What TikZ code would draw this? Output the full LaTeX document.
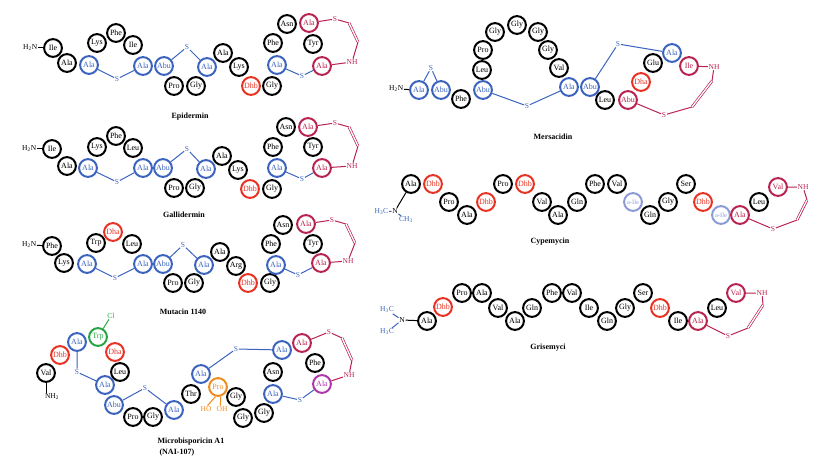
\documentclass[tikz,border=0pt]{standalone}
\usepackage{fontspec}
\setmainfont{Liberation Serif}
\definecolor{lanblue}{RGB}{60,100,190}
\definecolor{lancrim}{RGB}{185,35,80}
\definecolor{dhred}{RGB}{232,50,35}
\definecolor{proorange}{RGB}{240,140,30}
\definecolor{trpgreen}{RGB}{40,165,70}
\definecolor{alamag}{RGB}{175,55,170}
\definecolor{ileblue}{RGB}{140,155,215}
\tikzset{
	res/.style={circle, draw, line width=2pt, minimum size=17.8pt, inner sep=0pt, font=\fontsize{8}{8}\selectfont},
	blueres/.style={res, draw=lanblue, text=lanblue},
	crimres/.style={res, draw=lancrim, text=lancrim},
	redres/.style={res, draw=dhred, text=dhred},
	atom/.style={inner sep=0.6pt, font=\fontsize{7.5}{8}\selectfont},
	bond/.style={line width=1pt},
	dbl/.style={double, double distance=1.3pt, line width=0.7pt},
	title/.style={font=\fontsize{8}{9}\selectfont\bfseries}
}
\begin{document}
\begin{tikzpicture}[x=1pt, y=-1pt]
		\useasboundingbox (0,0) rectangle (826,465);
		\node[atom, anchor=east] (epiN) at (38,48) {H\textsubscript{2}N};
		\node[res] (epi1) at (53,48) {Ile};
		\node[res] (epi2) at (67,63) {Ala};
		\node[blueres] (epi3) at (89,65) {Ala};
		\node[res] (epi4) at (97,43) {Lys};
		\node[res] (epi5) at (116,33) {Phe};
		\node[res] (epi6) at (133,45) {Ile};
		\node[blueres] (epi7) at (143,66) {Ala};
		\node[blueres] (epi8) at (164,66) {Abu};
		\node[res] (epi9) at (174,86) {Pro};
		\node[res] (epi10) at (196,86) {Gly};
		\node[blueres] (epi11) at (207,67) {Ala};
		\node[res] (epi12) at (223,53) {Ala};
		\node[res] (epi13) at (239,67) {Lys};
		\node[redres] (epi14) at (251,86) {Dhb};
		\node[res] (epi15) at (272,86) {Gly};
		\node[blueres] (epi16) at (277,65) {Ala};
		\node[res] (epi17) at (273,43) {Phe};
		\node[res] (epi18) at (287,24) {Asn};
		\node[crimres] (epi19) at (309,23) {Ala};
		\node[res] (epi20) at (313,44) {Tyr};
		\node[crimres] (epi21) at (322,66) {Ala};
		\node[atom, lanblue] (epiS1) at (117,79) {S};
		\node[atom, lanblue] (epiS2) at (187,47) {S};
		\node[atom, lanblue] (epiS3) at (302,76) {S};
		\node[atom, lancrim] (epiS4) at (335,19) {S};
		\node[atom, lancrim] (epiNH) at (352,62) {NH};
		\coordinate (epiB1) at (349,23);
		\coordinate (epiB2) at (358,42);
		\draw[bond] (epiN) -- (epi1);
		\draw[bond, lanblue] (epi3) -- (epiS1) -- (epi7);
		\draw[bond, lanblue] (epi8) -- (epiS2) -- (epi11);
		\draw[bond, lanblue] (epi16) -- (epiS3) -- (epi21);
		\draw[bond, lancrim] (epi19) -- (epiS4) -- (epiB1);
		\draw[dbl, lancrim] (epiB1) -- (epiB2);
		\draw[bond, lancrim] (epiB2) -- (epiNH) -- (epi21);
		\node[title] at (190,117) {Epidermin};

		\node[atom, anchor=east] (galN) at (37,149) {H\textsubscript{2}N};
		\node[res] (gal1) at (52,149) {Ile};
		\node[res] (gal2) at (67,166) {Ala};
		\node[blueres] (gal3) at (88,168) {Ala};
		\node[res] (gal4) at (97,147) {Lys};
		\node[res] (gal5) at (116,136) {Phe};
		\node[res] (gal6) at (133,148) {Leu};
		\node[blueres] (gal7) at (143,168) {Ala};
		\node[blueres] (gal8) at (163,168) {Abu};
		\node[res] (gal9) at (174,188) {Pro};
		\node[res] (gal10) at (195,188) {Gly};
		\node[blueres] (gal11) at (206,169) {Ala};
		\node[res] (gal12) at (222,156) {Ala};
		\node[res] (gal13) at (238,170) {Lys};
		\node[redres] (gal14) at (250,189) {Dhb};
		\node[res] (gal15) at (272,189) {Gly};
		\node[blueres] (gal16) at (277,168) {Ala};
		\node[res] (gal17) at (273,147) {Phe};
		\node[res] (gal18) at (286,127) {Asn};
		\node[crimres] (gal19) at (308,127) {Ala};
		\node[res] (gal20) at (313,147) {Tyr};
		\node[crimres] (gal21) at (322,168) {Ala};
		\node[atom, lanblue] (galS1) at (117,182) {S};
		\node[atom, lanblue] (galS2) at (187,149) {S};
		\node[atom, lanblue] (galS3) at (302,179) {S};
		\node[atom, lancrim] (galS4) at (335,123) {S};
		\node[atom, lancrim] (galNH) at (352,166) {NH};
		\coordinate (galB1) at (349,127);
		\coordinate (galB2) at (358,146);
		\draw[bond] (galN) -- (gal1);
		\draw[bond, lanblue] (gal3) -- (galS1) -- (gal7);
		\draw[bond, lanblue] (gal8) -- (galS2) -- (gal11);
		\draw[bond, lanblue] (gal16) -- (galS3) -- (gal21);
		\draw[bond, lancrim] (gal19) -- (galS4) -- (galB1);
		\draw[dbl, lancrim] (galB1) -- (galB2);
		\draw[bond, lancrim] (galB2) -- (galNH) -- (gal21);
		\node[title] at (184,215) {Gallidermin};

		\node[atom, anchor=east] (mutN) at (37,245) {H\textsubscript{2}N};
		\node[res] (mut1) at (52,246) {Phe};
		\node[res] (mut2) at (64,263) {Lys};
		\node[blueres] (mut3) at (87,264) {Ala};
		\node[res] (mut4) at (96,243) {Trp};
		\node[redres] (mut5) at (113,232) {Dha};
		\node[res] (mut6) at (132,244) {Leu};
		\node[blueres] (mut7) at (143,264) {Ala};
		\node[blueres] (mut8) at (163,264) {Abu};
		\node[res] (mut9) at (173,283) {Pro};
		\node[res] (mut10) at (194,283) {Gly};
		\node[blueres] (mut11) at (204,265) {Ala};
		\node[res] (mut12) at (220,252) {Ala};
		\node[res] (mut13) at (236,266) {Arg};
		\node[redres] (mut14) at (248,283) {Dhb};
		\node[res] (mut15) at (270,283) {Gly};
		\node[blueres] (mut16) at (276,265) {Ala};
		\node[res] (mut17) at (271,244) {Phe};
		\node[res] (mut18) at (283,225) {Asn};
		\node[crimres] (mut19) at (306,224) {Ala};
		\node[res] (mut20) at (313,244) {Tyr};
		\node[crimres] (mut21) at (321,263) {Ala};
		\node[atom, lanblue] (mutS1) at (115,278) {S};
		\node[atom, lanblue] (mutS2) at (183,245) {S};
		\node[atom, lanblue] (mutS3) at (298,275) {S};
		\node[atom, lancrim] (mutS4) at (332,220) {S};
		\node[atom, lancrim] (mutNH) at (348,261) {NH};
		\coordinate (mutB1) at (346,224);
		\coordinate (mutB2) at (355,243);
		\draw[bond] (mutN) -- (mut1);
		\draw[bond, lanblue] (mut3) -- (mutS1) -- (mut7);
		\draw[bond, lanblue] (mut8) -- (mutS2) -- (mut11);
		\draw[bond, lanblue] (mut16) -- (mutS3) -- (mut21);
		\draw[bond, lancrim] (mut19) -- (mutS4) -- (mutB1);
		\draw[dbl, lancrim] (mutB1) -- (mutB2);
		\draw[bond, lancrim] (mutB2) -- (mutNH) -- (mut21);
		\node[title] at (183,312) {Mutacin 1140};

		\node[res] (mic1) at (46,373) {Val};
		\node[atom] (micNH2) at (52,397) {NH\textsubscript{2}};
		\node[redres] (mic2) at (60,355) {Dhb};
		\node[blueres] (mic3) at (77,342) {Ala};
		\node[res, draw=trpgreen, text=trpgreen] (mic4) at (98,337) {Trp};
		\node[atom, trpgreen] (micCl) at (111,316) {Cl};
		\node[redres] (mic5) at (115,352) {Dha};
		\node[res] (mic6) at (120,372) {Leu};
		\node[blueres] (mic7) at (105,385) {Ala};
		\node[blueres] (mic8) at (114,405) {Abu};
		\node[res] (mic9) at (133,417) {Pro};
		\node[res] (mic10) at (153,417) {Gly};
		\node[blueres] (mic11) at (174,410) {Ala};
		\node[res] (mic12) at (191,394) {Thr};
		\node[blueres] (mic13) at (201,374) {Ala};
		\node[res, draw=proorange, text=proorange] (mic14) at (218,387) {Pro};
		\node[atom, proorange] (micHO) at (206,409) {HO};
		\node[atom, proorange] (micOH) at (222,409) {OH};
		\node[res] (mic15) at (236,397) {Gly};
		\node[res] (mic16) at (243,418) {Gly};
		\node[res] (mic17) at (264,413) {Gly};
		\node[blueres] (mic18) at (273,394) {Ala};
		\node[res] (mic19) at (273,372) {Asn};
		\node[blueres] (mic20) at (282,350) {Ala};
		\node[crimres] (mic21) at (302,343) {Ala};
		\node[res] (mic22) at (315,363) {Phe};
		\node[res, draw=alamag, text=alamag] (mic23) at (322,384) {Ala};
		\node[atom, lanblue] (micS1) at (77,372) {S};
		\node[atom, lanblue] (micS2) at (145,388) {S};
		\node[atom, lanblue] (micS3) at (236,349) {S};
		\node[atom, lanblue] (micS4) at (300,400) {S};
		\node[atom, lancrim] (micS5) at (329,332) {S};
		\node[atom, lancrim] (micNH) at (349,375) {NH};
		\coordinate (micB1) at (342,338);
		\coordinate (micB2) at (352,360);
		\draw[bond] (mic1) -- (micNH2.north -| mic1);
		\draw[bond, trpgreen] (mic4) -- (micCl);
		\draw[bond, proorange] (mic14.255) -- (micHO.65);
		\draw[bond, proorange] (mic14.285) -- (micOH.115);
		\draw[bond, lanblue] (mic3) -- (micS1) -- (mic7);
		\draw[bond, lanblue] (mic8) -- (micS2) -- (mic11);
		\draw[bond, lanblue] (mic13) -- (micS3) -- (mic20);
		\draw[bond, lanblue] (mic18) -- (micS4) -- (mic23);
		\draw[bond, lancrim] (mic21) -- (micS5) -- (micB1);
		\draw[dbl, lancrim] (micB1) -- (micB2);
		\draw[bond, lancrim] (micB2) -- (micNH) -- (mic23);
		\node[title, anchor=west] at (154,442) {Microbisporicin A1};
		\node[title, anchor=west] at (156,453) {(NAI-107)};

		\node[atom, anchor=east] (merN) at (404,89) {H\textsubscript{2}N};
		\node[blueres] (mer1) at (419,90) {Ala};
		\node[blueres] (mer2) at (441,90) {Abu};
		\node[res] (mer3) at (461,99) {Phe};
		\node[blueres] (mer4) at (483,90) {Abu};
		\node[res] (mer5) at (482,70) {Leu};
		\node[res] (mer6) at (483,50) {Pro};
		\node[res] (mer7) at (495,32) {Gly};
		\node[res] (mer8) at (517,25) {Gly};
		\node[res] (mer9) at (538,32) {Gly};
		\node[res] (mer10) at (548,50) {Gly};
		\node[res] (mer11) at (559,68) {Val};
		\node[blueres] (mer12) at (569,87) {Ala};
		\node[blueres] (mer13) at (590,87) {Abu};
		\node[res] (mer14) at (605,100) {Leu};
		\node[crimres] (mer15) at (628,100) {Abu};
		\node[redres] (mer16) at (641,82) {Dha};
		\node[res] (mer17) at (653,63) {Glu};
		\node[blueres] (mer18) at (672,53) {Ala};
		\node[crimres] (mer19) at (689,66) {Ile};
		\node[atom, lanblue] (merS1) at (431,68) {S};
		\node[atom, lanblue] (merS2) at (527,106) {S};
		\node[atom, lanblue] (merS3) at (618,44) {S};
		\node[atom, lancrim] (merS4) at (664,115) {S};
		\node[atom, lancrim] (merNH) at (714,67) {NH};
		\coordinate (merB1) at (692,107);
		\coordinate (merB2) at (712,81);
		\draw[bond] (merN) -- (mer1);
		\draw[bond, lanblue] (mer1) -- (merS1) -- (mer2);
		\draw[bond, lanblue] (mer4) -- (merS2) -- (mer12);
		\draw[bond, lanblue] (mer13) -- (merS3) -- (mer18);
		\draw[bond, lancrim] (mer15) -- (merS4) -- (merB1);
		\draw[dbl, lancrim] (merB1) -- (merB2);
		\draw[bond, lancrim] (merB2) -- (merNH) -- (mer19);
		\node[title] at (553,137) {Mersacidin};

		\node[atom, lanblue, anchor=east] (cypMe1) at (389,212) {H\textsubscript{3}C};
		\node[atom] (cypN) at (395,211) {N};
		\node[atom, lanblue] (cypMe2) at (406,220) {CH\textsubscript{3}};
		\node[res] (cyp1) at (411,184) {Ala};
		\node[redres] (cyp2) at (433,184) {Dhb};
		\node[res] (cyp3) at (449,202) {Pro};
		\node[res] (cyp4) at (467,215) {Ala};
		\node[redres] (cyp5) at (486,202) {Dhb};
		\node[res] (cyp6) at (503,184) {Pro};
		\node[redres] (cyp7) at (525,184) {Dhb};
		\node[res] (cyp8) at (542,202) {Val};
		\node[res] (cyp9) at (558,215) {Ala};
		\node[res] (cyp10) at (577,202) {Gln};
		\node[res] (cyp11) at (595,184) {Phe};
		\node[res] (cyp12) at (617,184) {Val};
		\node[res, draw=ileblue, text=ileblue, font=\fontsize{6.5}{7}\selectfont] (cyp13) at (633,202) {a-Ile};
		\node[res] (cyp14) at (650,215) {Gln};
		\node[res] (cyp15) at (668,202) {Gly};
		\node[res] (cyp16) at (686,184) {Ser};
		\node[redres] (cyp17) at (703,202) {Dhb};
		\node[res, draw=ileblue, text=ileblue, font=\fontsize{6.5}{7}\selectfont] (cyp18) at (721,215) {a-Ile};
		\node[crimres] (cyp19) at (740,215) {Ala};
		\node[res] (cyp20) at (759,202) {Leu};
		\node[crimres] (cyp21) at (778,187) {Val};
		\node[atom, lancrim] (cypS) at (773,229) {S};
		\node[atom, lancrim] (cypNH) at (803,187) {NH};
		\coordinate (cypB1) at (797,220);
		\coordinate (cypB2) at (807,200);
		\draw[bond, lanblue] (cypMe1) -- (cypN) -- (cypMe2);
		\draw[bond] (cypN) -- (cyp1);
		\draw[bond, lancrim] (cyp19) -- (cypS) -- (cypB1);
		\draw[dbl, lancrim] (cypB1) -- (cypB2);
		\draw[bond, lancrim] (cypB2) -- (cypNH) -- (cyp21);
		\node[title] at (550,242) {Cypemycin};

		\node[atom, lanblue] (griMe1) at (387,310) {H\textsubscript{3}C};
		\node[atom] (griN) at (402,320) {N};
		\node[atom, lanblue] (griMe2) at (387,332) {H\textsubscript{3}C};
		\node[res] (gri1) at (427,321) {Ala};
		\node[redres] (gri2) at (443,307) {Dhb};
		\node[res] (gri3) at (462,293) {Pro};
		\node[res] (gri4) at (482,293) {Ala};
		\node[res] (gri5) at (498,308) {Val};
		\node[res] (gri6) at (515,321) {Ala};
		\node[res] (gri7) at (532,308) {Gln};
		\node[res] (gri8) at (552,293) {Phe};
		\node[res] (gri9) at (572,293) {Val};
		\node[res] (gri10) at (589,308) {Ile};
		\node[res] (gri11) at (607,321) {Gln};
		\node[res] (gri12) at (625,308) {Gly};
		\node[res] (gri13) at (643,293) {Ser};
		\node[redres] (gri14) at (660,308) {Dhb};
		\node[res] (gri15) at (678,321) {Ile};
		\node[crimres] (gri16) at (698,321) {Ala};
		\node[res] (gri17) at (717,308) {Leu};
		\node[crimres] (gri18) at (736,293) {Val};
		\node[atom, lancrim] (griS) at (728,336) {S};
		\node[atom, lancrim] (griNH) at (762,293) {NH};
		\coordinate (griB1) at (748,328);
		\coordinate (griB2) at (763,305);
		\draw[bond, lanblue] (griMe1) -- (griN) -- (griMe2);
		\draw[bond] (griN) -- (gri1);
		\draw[bond, lancrim] (gri16) -- (griS) -- (griB1);
		\draw[dbl, lancrim] (griB1) -- (griB2);
		\draw[bond, lancrim] (griB2) -- (griNH) -- (gri18);
		\node[title] at (548,348) {Grisemyci};
	\end{tikzpicture}
\end{document}
